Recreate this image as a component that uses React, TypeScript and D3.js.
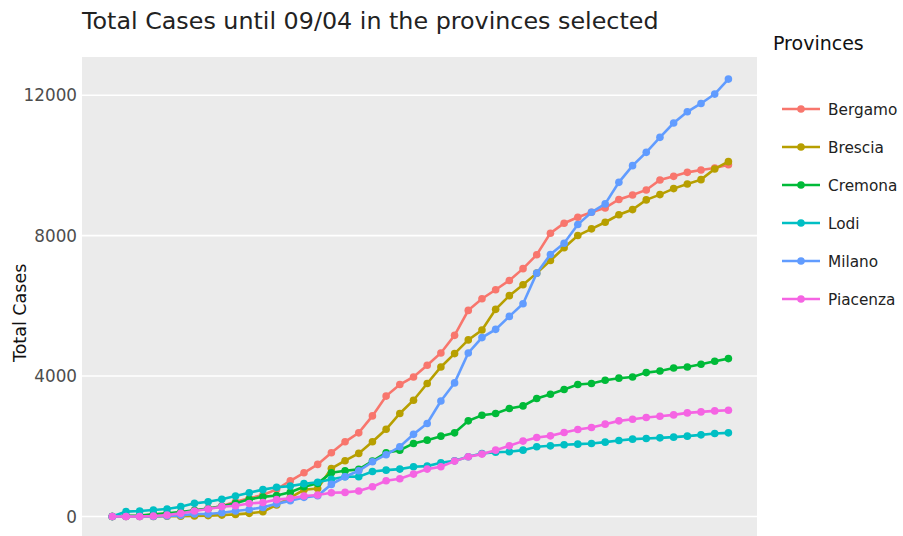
import React from "react";
import * as d3 from "d3";

const dates = [
  "24/02","25/02","26/02","27/02","28/02","29/02","01/03","02/03","03/03","04/03",
  "05/03","06/03","07/03","08/03","09/03","10/03","11/03","12/03","13/03","14/03",
  "15/03","16/03","17/03","18/03","19/03","20/03","21/03","22/03","23/03","24/03",
  "25/03","26/03","27/03","28/03","29/03","30/03","31/03","01/04","02/04","03/04",
  "04/04","05/04","06/04","07/04","08/04","09/04"
];

const provinces = ["Bergamo", "Brescia", "Cremona", "Lodi", "Milano", "Piacenza"];
const colors = ["#F8766D", "#B79F00", "#00BA38", "#00BFC4", "#619CFF", "#F564E3"];

const bergamo = [0, 10, 20, 50, 80, 110, 170, 220, 300, 420, 517, 611, 773, 1018, 1245, 1484, 1814, 2127, 2383, 2866, 3430, 3758, 3975, 4307, 4658, 5160, 5871, 6203, 6459, 6724, 7060, 7454, 8070, 8353, 8524, 8665, 8790, 9030, 9159, 9301, 9585, 9688, 9802, 9869, 9926, 10022];
const brescia = [0, 0, 0, 2, 5, 10, 15, 25, 40, 60, 90, 137, 330, 540, 760, 796, 1365, 1590, 1797, 2127, 2485, 2934, 3312, 3787, 4259, 4640, 5030, 5310, 5900, 6290, 6601, 6932, 7292, 7653, 8003, 8193, 8382, 8595, 8742, 9018, 9169, 9339, 9472, 9595, 9899, 10107];
const cremona = [0, 20, 30, 60, 90, 130, 180, 230, 290, 380, 488, 560, 600, 690, 847, 943, 1245, 1302, 1342, 1578, 1814, 1890, 2081, 2175, 2289, 2383, 2724, 2886, 2934, 3076, 3150, 3360, 3483, 3616, 3758, 3787, 3881, 3940, 3975, 4099, 4145, 4230, 4259, 4336, 4421, 4497];
const lodi = [0, 140, 155, 185, 213, 280, 375, 420, 490, 583, 677, 765, 832, 866, 935, 975, 1060, 1133, 1135, 1282, 1320, 1350, 1415, 1435, 1530, 1585, 1700, 1795, 1830, 1843, 1890, 1985, 2013, 2042, 2061, 2081, 2118, 2165, 2203, 2223, 2240, 2260, 2289, 2326, 2364, 2383];
const milano = [0, 0, 0, 0, 15, 33, 71, 71, 108, 156, 200, 260, 360, 450, 545, 592, 915, 1132, 1302, 1558, 1760, 1985, 2340, 2650, 3290, 3805, 4658, 5095, 5331, 5700, 6061, 6932, 7463, 7785, 8316, 8665, 8904, 9518, 9993, 10372, 10799, 11207, 11528, 11765, 12032, 12458];
const piacenza = [0, 0, 0, 15, 43, 90, 156, 213, 280, 307, 370, 400, 480, 517, 583, 611, 677, 687, 725, 847, 1018, 1075, 1208, 1350, 1416, 1578, 1700, 1777, 1890, 2013, 2147, 2252, 2297, 2394, 2479, 2536, 2630, 2724, 2772, 2820, 2857, 2894, 2951, 2980, 3008, 3028];

const seriesValues = [bergamo, brescia, cremona, lodi, milano, piacenza];
const yTicks = [0, 4000, 8000, 12000];

const W = 903;
const H = 536;
const plot = { left: 82, right: 757, top: 57, bottom: 536 };
const FONT = "'DejaVu Sans', Verdana, sans-serif";

export default function App() {
  const x = d3.scalePoint<string>().domain(dates).range([112.3, 728.4]);
  const y = d3.scaleLinear().domain([0, 12000]).range([516.5, 95.2]);
  const line = d3
    .line<number>()
    .x((_, i) => x(dates[i]) as number)
    .y((d) => y(d));

  return (
    <svg width={W} height={H} style={{ position: "absolute", left: 0, top: 0, background: "#fff" }}>
      <rect x={plot.left} y={plot.top} width={plot.right - plot.left} height={plot.bottom - plot.top} fill="#EBEBEB" />
      {yTicks.map((t) => (
        <g key={t}>
          <line x1={plot.left} x2={plot.right} y1={y(t)} y2={y(t)} stroke="#fff" strokeWidth={1.6} />
          <text x={77} y={y(t)} dy="0.36em" textAnchor="end" fontFamily={FONT} fontSize={16.8} fill="#4d4d4d">
            {t}
          </text>
        </g>
      ))}
      <text x={82} y={29} fontFamily={FONT} fontSize={23.8} fill="#222">
        Total Cases until 09/04 in the provinces selected
      </text>
      <text transform={`translate(26,${y(5800)}) rotate(-90)`} textAnchor="middle" fontFamily={FONT} fontSize={17.5} fill="#111">
        Total Cases
      </text>
      {seriesValues.map((vals, s) => (
        <g key={provinces[s]}>
          <path d={line(vals) as string} fill="none" stroke={colors[s]} strokeWidth={2.6} />
          {vals.map((v, i) => (
            <circle key={i} cx={x(dates[i]) as number} cy={y(v)} r={3.8} fill={colors[s]} />
          ))}
        </g>
      ))}
      <text x={773} y={50} fontFamily={FONT} fontSize={19} fill="#111">
        Provinces
      </text>
      {provinces.map((p, s) => {
        const ly = 109 + s * 38;
        return (
          <g key={p}>
            <line x1={782} x2={820} y1={ly} y2={ly} stroke={colors[s]} strokeWidth={2.6} />
            <circle cx={801} cy={ly} r={3.8} fill={colors[s]} />
            <text x={828} y={ly} dy="0.36em" fontFamily={FONT} fontSize={15.3} fill="#222">
              {p}
            </text>
          </g>
        );
      })}
    </svg>
  );
}
